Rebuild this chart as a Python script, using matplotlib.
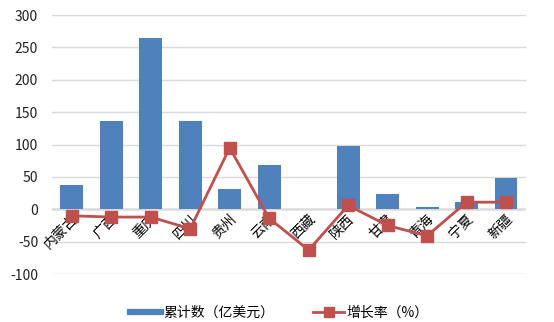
import matplotlib
matplotlib.use('Agg')
import matplotlib.pyplot as plt
from matplotlib.lines import Line2D
import numpy as np

plt.rcParams['font.family'] = ['Noto Sans CJK SC', 'DejaVu Sans']
plt.rcParams['axes.unicode_minus'] = False

# データ
provinces = ['内蒙古', '广西', '重庆', '四川', '贵州', '云南', '西藏', '陕西', '甘肃', '青海', '宁夏', '新疆']
total = [37, 136, 265, 137, 31, 68, 1, 98, 23, 3, 11, 48]
growth = [-10, -12, -12, -30, 95, -14, -63, 6, -25, -41, 11, 11]
yticks = [-100, -50, 0, 50, 100, 150, 200, 250, 300]

bar_color = '#4F81BD'
line_color = '#C0504D'

fig = plt.figure(figsize=(5.54, 3.22), dpi=100)
ax = fig.add_axes([0.094, 0.149, 0.855, 0.804])

x = np.arange(len(provinces))
ax.bar(x, total, width=0.58, color=bar_color, zorder=2)
ax.plot(x, growth, color=line_color, linewidth=2, marker='s', markersize=8.5, zorder=4)

ax.set_xlim(-0.5, len(provinces) - 0.5)
ax.set_ylim(-100, 300)
ax.set_yticks(yticks)
ax.set_yticklabels([str(v) for v in yticks], fontsize=10, color='#222222')
ax.set_xticks([])
ax.grid(axis='y', color='#D9D9D9', linewidth=1, zorder=0)
ax.axhline(0, color='#868686', linewidth=1, zorder=1)
for s in ax.spines.values():
    s.set_visible(False)
ax.tick_params(axis='y', length=0, pad=10)

# カテゴリラベル（0の位置に斜めに配置）
for i, name in enumerate(provinces):
    ax.text(i - 0.02, -4, name, rotation=45, ha='right', va='top',
            rotation_mode='anchor', fontsize=10, zorder=3)

# 凡例
handles = [Line2D([], [], color=bar_color, linewidth=4.5),
           Line2D([], [], color=line_color, linewidth=2, marker='s', markersize=7)]
labels = ['累计数（亿美元）', '增长率（%）']
ax.legend(handles, labels, loc='upper center', bbox_to_anchor=(0.48, -0.075), ncol=2,
          frameon=False, fontsize=10, handlelength=2.2, handletextpad=0.2,
          columnspacing=2.8)

fig.savefig('out.png', dpi=100)
